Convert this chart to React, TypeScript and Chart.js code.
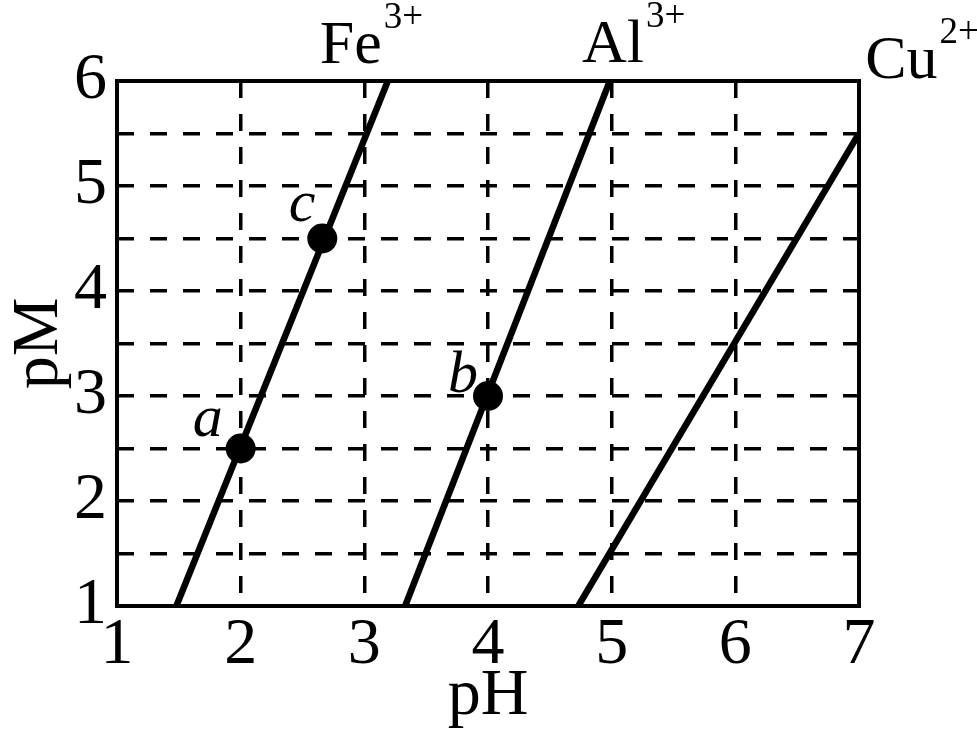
import React, { useEffect, useRef } from "react";
import { Chart, registerables } from "chart.js";

Chart.register(...registerables);

// ---- data ----
const xTicks = [1, 2, 3, 4, 5, 6, 7];
const yTicks = [1, 2, 3, 4, 5, 6];

const ionNames = ["Fe", "Al", "Cu"];
const ionCharges = ["3+", "3+", "2+"];
// each line: two end points (pH, pM)
const linePH = [
  [1.48, 3.19],
  [3.33, 4.985],
  [4.73, 7.0],
];
const linePM = [
  [1, 6],
  [1, 6],
  [1, 5.5],
];

const pointNames = ["a", "b", "c"];
const pointPH = [2, 4, 2.66];
const pointPM = [2.5, 3, 4.5];

// ---- layout / style (not data) ----
const FONT = "'Liberation Serif', 'Times New Roman', serif";
const ionLabelAnchorPH = [2.64, 4.76, 7.05];
const ionLabelDy = [-18, -19, -3];
const pointLabelDx = [-18, -10, -7];
const pointLabelDy = [-13, -4, -18];

const textPlugin = {
  id: "textPlugin",
  afterDraw(chart: any) {
    const { ctx, chartArea, scales } = chart;
    ctx.save();
    ctx.strokeStyle = "#000";
    ctx.lineWidth = 4;
    ctx.strokeRect(
      chartArea.left,
      chartArea.top,
      chartArea.right - chartArea.left,
      chartArea.bottom - chartArea.top
    );
    ctx.fillStyle = "#000";
    ctx.textBaseline = "alphabetic";
    ctx.textAlign = "left";
    ionNames.forEach((name, i) => {
      const x = scales.x.getPixelForValue(ionLabelAnchorPH[i]);
      const y = chartArea.top + ionLabelDy[i];
      ctx.font = `62px ${FONT}`;
      ctx.fillText(name, x, y);
      const w = ctx.measureText(name).width;
      ctx.font = `37px ${FONT}`;
      ctx.fillText(ionCharges[i], x + w + 2, y - 35);
    });
    ctx.font = `italic 60px ${FONT}`;
    ctx.textAlign = "right";
    pointNames.forEach((name, i) => {
      const x = scales.x.getPixelForValue(pointPH[i]) + pointLabelDx[i];
      const y = scales.y.getPixelForValue(pointPM[i]) + pointLabelDy[i];
      ctx.fillText(name, x, y);
    });
    ctx.restore();
  },
};

export default function App() {
  const ref = useRef<HTMLCanvasElement>(null);
  useEffect(() => {
    if (!ref.current) return;
    const lineSets = ionNames.map((name, i) => ({
      label: name,
      data: linePH[i].map((x, j) => ({ x, y: linePM[i][j] })),
      showLine: true,
      borderColor: "#000",
      borderWidth: 6.5,
      pointRadius: 0,
      order: 2,
    }));
    const pointSet = {
      label: "points",
      data: pointPH.map((x, i) => ({ x, y: pointPM[i] })),
      showLine: false,
      pointRadius: 15,
      pointBackgroundColor: "#000",
      pointBorderColor: "#000",
      pointBorderWidth: 0,
      order: 1,
      clip: false as any,
    };
    const chart = new Chart(ref.current, {
      type: "scatter",
      data: { datasets: [...lineSets, pointSet] as any },
      options: {
        animation: false,
        responsive: true,
        maintainAspectRatio: false,
        layout: { padding: { top: 81, right: 118, left: 0, bottom: 0 } },
        plugins: { legend: { display: false }, tooltip: { enabled: false } },
        scales: {
          x: {
            type: "linear",
            min: 1,
            max: 7,
            afterBuildTicks: (s: any) => {
              s.ticks = xTicks.map((v) => ({ value: v }));
            },
            afterFit: (s: any) => {
              s.height = 130;
            },
            ticks: {
              color: "#000",
              font: { family: FONT, size: 66 },
              padding: 0,
              maxRotation: 0,
              autoSkip: false,
            },
            grid: {
              color: (c: any) =>
                c.tick && (c.tick.value === 1 || c.tick.value === 7) ? "rgba(0,0,0,0)" : "#000",
              lineWidth: 3.5,
              drawTicks: false,
            },
            border: { display: false, dash: [17, 16] },
            title: {
              display: true,
              text: "pH",
              color: "#000",
              font: { family: FONT, size: 66 },
              padding: { top: 0, bottom: 0 },
            },
          },
          y: {
            type: "linear",
            min: 1,
            max: 6,
            afterBuildTicks: (s: any) => {
              const t: any[] = [];
              for (let k = 0; k <= 10; k++) t.push({ value: 1 + k * 0.5 });
              s.ticks = t;
            },
            afterFit: (s: any) => {
              s.width = 117;
            },
            ticks: {
              color: "#000",
              font: { family: FONT, size: 66 },
              padding: 10,
              autoSkip: false,
              callback: (v: any) => (yTicks.includes(Number(v)) ? String(v) : ""),
            },
            grid: {
              color: (c: any) =>
                c.tick && (c.tick.value === 1 || c.tick.value === 6) ? "rgba(0,0,0,0)" : "#000",
              lineWidth: 3.5,
              drawTicks: false,
            },
            border: { display: false, dash: [17, 16] },
            title: {
              display: true,
              text: "pM",
              color: "#000",
              font: { family: FONT, size: 66 },
              padding: { top: 0, bottom: 0 },
            },
          },
        },
      },
      plugins: [textPlugin],
    });
    return () => chart.destroy();
  }, []);
  return (
    <div style={{ position: "fixed", left: 0, top: 0, width: 977, height: 736, background: "#fff" }}>
      <canvas ref={ref} />
    </div>
  );
}
